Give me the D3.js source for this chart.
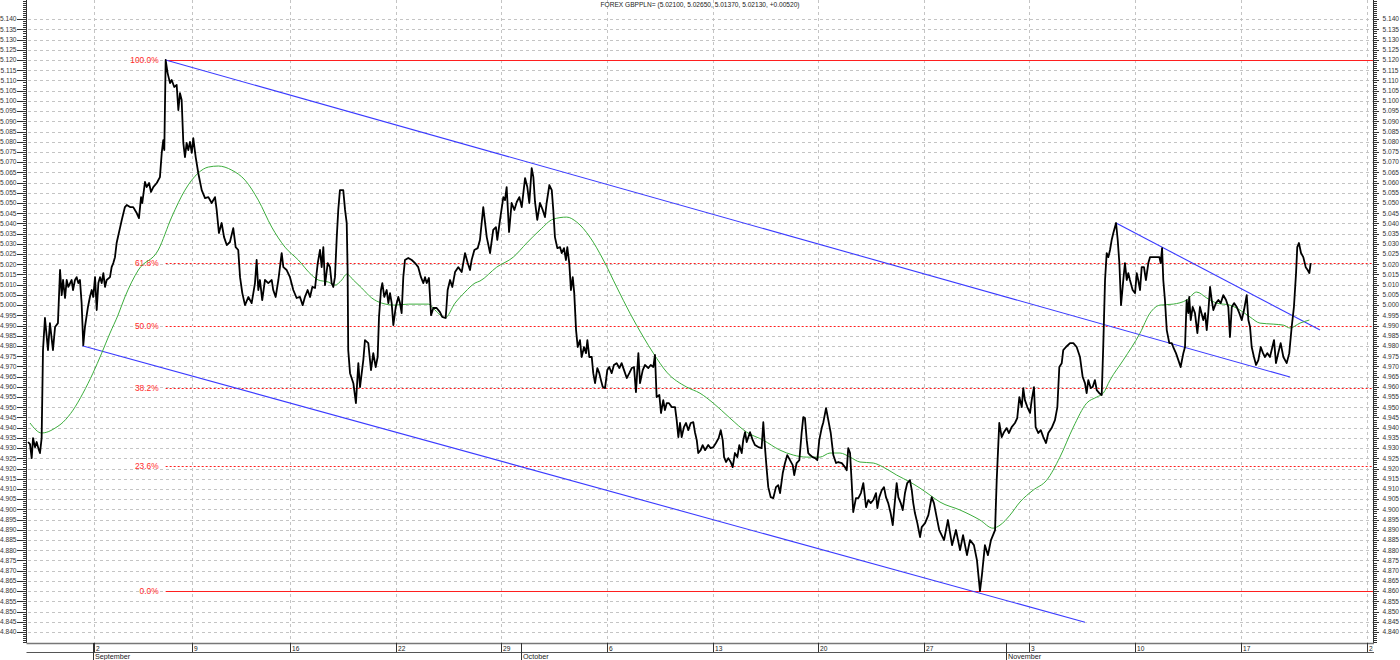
<!DOCTYPE html>
<html><head><meta charset="utf-8">
<script src="https://cdn.jsdelivr.net/npm/d3@7"></script>
<style>
body{margin:0;background:#fff;}
svg{display:block;font-family:"Liberation Sans",Arial,sans-serif;}
</style></head><body>
<svg id="c" width="1400" height="660"></svg>
<script>
const title = "FOREX GBPPLN= (5.02100, 5.02650, 5.01370, 5.02130, +0.00520)";
// [days since 2 Sep, price]
const price = [[-4.37,4.9330],[-4.24,4.9320],[-4.13,4.9251],[-4.04,4.9349],[-3.91,4.9305],[-3.80,4.9330],[-3.69,4.9300],[-3.58,4.9276],[-3.47,4.9349],[-3.38,4.9780],[-3.25,4.9937],[-3.05,4.9780],[-2.92,4.9912],[-2.72,4.9780],[-2.58,4.9893],[-2.39,4.9912],[-2.25,5.0172],[-2.14,5.0049],[-2.05,5.0123],[-1.92,5.0035],[-1.81,5.0123],[-1.70,5.0089],[-1.48,5.0123],[-1.39,5.0074],[-1.26,5.0123],[-1.15,5.0137],[-1.04,5.0108],[-0.93,5.0123],[-0.82,5.0010],[-0.71,4.9804],[-0.60,4.9893],[-0.40,4.9991],[-0.27,5.0040],[-0.15,5.0074],[-0.05,5.0040],[0.07,5.0137],[0.18,4.9976],[0.29,5.0108],[0.40,5.0137],[0.51,5.0108],[0.62,5.0157],[0.73,5.0089],[0.84,5.0123],[1.06,5.0137],[1.17,5.0186],[1.28,5.0206],[1.39,5.0235],[1.50,5.0304],[1.72,5.0377],[1.84,5.0417],[2.05,5.0480],[2.17,5.0490],[2.39,5.0480],[2.60,5.0480],[2.83,5.0451],[2.98,5.0426],[3.12,5.0529],[3.20,5.0500],[3.38,5.0603],[3.49,5.0578],[3.65,5.0598],[3.78,5.0554],[3.93,5.0578],[4.16,5.0598],[4.37,5.0627],[4.49,5.0745],[4.59,5.0808],[4.66,5.0759],[4.75,5.1200],[4.88,5.1136],[5.04,5.1087],[5.15,5.1102],[5.32,5.1068],[5.48,5.1078],[5.59,5.0955],[5.70,5.1038],[5.81,5.1004],[5.92,5.0794],[6.03,5.0725],[6.14,5.0794],[6.25,5.0759],[6.36,5.0799],[6.48,5.0745],[6.58,5.0818],[6.74,5.0725],[6.91,5.0647],[7.14,5.0563],[7.36,5.0524],[7.58,5.0529],[7.80,5.0500],[8.02,5.0529],[8.13,5.0466],[8.28,5.0353],[8.46,5.0402],[8.62,5.0333],[8.80,5.0294],[9.01,5.0309],[9.23,5.0377],[9.39,5.0284],[9.56,5.0270],[9.68,5.0137],[9.83,5.0059],[10.01,5.0000],[10.23,5.0040],[10.45,5.0010],[10.67,5.0108],[10.78,5.0221],[10.89,5.0074],[11.00,5.0123],[11.15,5.0025],[11.33,5.0123],[11.55,5.0108],[11.78,5.0123],[11.88,5.0074],[12.04,5.0040],[12.22,5.0123],[12.44,5.0255],[12.55,5.0186],[12.77,5.0172],[12.99,5.0137],[13.21,5.0074],[13.43,5.0035],[13.65,5.0040],[13.83,5.0000],[13.98,5.0040],[14.16,5.0074],[14.32,5.0040],[14.47,5.0089],[14.65,5.0084],[14.83,5.0206],[14.98,5.0270],[15.09,5.0186],[15.20,5.0284],[15.31,5.0098],[15.49,5.0206],[15.64,5.0186],[15.75,5.0108],[15.86,5.0089],[15.97,5.0137],[16.09,5.0333],[16.19,5.0466],[16.30,5.0563],[16.52,5.0563],[16.64,5.0466],[16.75,5.0402],[16.81,5.0172],[16.85,4.9780],[16.97,4.9667],[17.19,4.9618],[17.36,4.9520],[17.52,4.9716],[17.63,4.9599],[17.85,4.9731],[17.96,4.9829],[18.18,4.9814],[18.36,4.9682],[18.51,4.9765],[18.67,4.9697],[18.80,4.9746],[18.89,4.9942],[19.02,5.0074],[19.11,5.0108],[19.24,5.0040],[19.40,5.0074],[19.51,5.0010],[19.62,5.0059],[19.73,5.0010],[19.84,4.9902],[20.00,4.9991],[20.17,5.0040],[20.28,5.0010],[20.39,4.9961],[20.50,5.0137],[20.61,5.0221],[20.83,5.0231],[21.06,5.0221],[21.28,5.0206],[21.49,5.0186],[21.67,5.0137],[21.83,5.0108],[21.94,5.0137],[22.05,5.0108],[22.20,5.0133],[22.34,4.9951],[22.49,4.9986],[22.71,4.9986],[22.93,4.9966],[23.08,4.9942],[23.31,4.9937],[23.44,5.0074],[23.60,5.0123],[23.75,5.0089],[23.93,5.0162],[24.14,5.0186],[24.37,5.0162],[24.59,5.0255],[24.77,5.0206],[24.92,5.0172],[25.03,5.0221],[25.21,5.0270],[25.43,5.0279],[25.58,5.0319],[25.80,5.0480],[26.03,5.0333],[26.25,5.0255],[26.46,5.0368],[26.64,5.0382],[26.73,5.0319],[26.91,5.0417],[27.13,5.0529],[27.24,5.0514],[27.35,5.0578],[27.51,5.0358],[27.68,5.0500],[27.86,5.0466],[28.02,5.0505],[28.19,5.0529],[28.35,5.0480],[28.57,5.0622],[28.72,5.0578],[28.85,5.0500],[29.01,5.0671],[29.12,5.0627],[29.23,5.0505],[29.38,5.0417],[29.56,5.0500],[29.74,5.0466],[29.89,5.0431],[30.00,5.0500],[30.18,5.0588],[30.34,5.0563],[30.44,5.0466],[30.55,5.0333],[30.71,5.0279],[30.89,5.0284],[31.00,5.0255],[31.15,5.0279],[31.28,5.0221],[31.37,5.0284],[31.50,5.0206],[31.61,5.0074],[31.73,5.0137],[31.83,5.0059],[31.95,4.9878],[32.06,4.9795],[32.21,4.9829],[32.32,4.9746],[32.48,4.9795],[32.61,4.9765],[32.70,4.9829],[32.83,4.9746],[32.99,4.9746],[33.09,4.9667],[33.21,4.9618],[33.36,4.9692],[33.49,4.9667],[33.60,4.9633],[33.72,4.9599],[33.87,4.9594],[34.02,4.9682],[34.15,4.9697],[34.31,4.9667],[34.46,4.9707],[34.64,4.9716],[34.82,4.9692],[34.97,4.9716],[35.13,4.9682],[35.31,4.9643],[35.48,4.9667],[35.64,4.9692],[35.79,4.9697],[35.92,4.9574],[36.08,4.9765],[36.19,4.9618],[36.37,4.9682],[36.52,4.9707],[36.74,4.9692],[36.90,4.9707],[37.07,4.9697],[37.18,4.9756],[37.29,4.9550],[37.47,4.9560],[37.58,4.9472],[37.73,4.9535],[37.84,4.9486],[37.96,4.9520],[38.11,4.9520],[38.29,4.9501],[38.51,4.9501],[38.62,4.9437],[38.73,4.9354],[38.84,4.9423],[38.95,4.9354],[39.10,4.9403],[39.24,4.9423],[39.39,4.9388],[39.55,4.9423],[39.72,4.9427],[39.83,4.9378],[39.95,4.9339],[40.05,4.9276],[40.21,4.9290],[40.34,4.9315],[40.50,4.9290],[40.71,4.9315],[40.87,4.9300],[41.05,4.9305],[41.22,4.9325],[41.40,4.9349],[41.54,4.9388],[41.67,4.9339],[41.76,4.9256],[41.89,4.9232],[42.04,4.9251],[42.20,4.9232],[42.33,4.9207],[42.48,4.9276],[42.64,4.9256],[42.77,4.9315],[42.93,4.9276],[43.03,4.9339],[43.15,4.9378],[43.26,4.9330],[43.48,4.9378],[43.66,4.9339],[43.81,4.9315],[44.03,4.9305],[44.25,4.9300],[44.36,4.9427],[44.47,4.9305],[44.59,4.9192],[44.69,4.9109],[44.85,4.9060],[45.02,4.9055],[45.20,4.9109],[45.35,4.9119],[45.47,4.9080],[45.65,4.9178],[45.80,4.9227],[45.95,4.9266],[46.13,4.9241],[46.31,4.9217],[46.41,4.9168],[46.57,4.9227],[46.75,4.9241],[46.90,4.9374],[47.01,4.9452],[47.12,4.9447],[47.24,4.9339],[47.34,4.9276],[47.46,4.9266],[47.63,4.9256],[47.79,4.9251],[47.94,4.9241],[48.07,4.9339],[48.23,4.9398],[48.34,4.9427],[48.52,4.9496],[48.67,4.9437],[48.83,4.9374],[49.00,4.9266],[49.18,4.9227],[49.33,4.9232],[49.56,4.9227],[49.77,4.9207],[49.89,4.9192],[49.99,4.9300],[50.11,4.9276],[50.22,4.9129],[50.32,4.8987],[50.50,4.9055],[50.66,4.9055],[50.83,4.9080],[50.99,4.9129],[51.17,4.9011],[51.32,4.9046],[51.48,4.9031],[51.65,4.9046],[51.83,4.9080],[51.92,4.9006],[52.05,4.9060],[52.21,4.9094],[52.36,4.9109],[52.49,4.9060],[52.64,4.9031],[52.80,4.8982],[52.94,4.8923],[53.09,4.9046],[53.20,4.9129],[53.31,4.9060],[53.47,4.9031],[53.60,4.8997],[53.75,4.9080],[53.90,4.9129],[54.08,4.9143],[54.20,4.9094],[54.30,4.9031],[54.41,4.8982],[54.57,4.8933],[54.75,4.8864],[54.86,4.8913],[55.08,4.8933],[55.30,4.8972],[55.52,4.9060],[55.67,4.9031],[55.85,4.8962],[56.02,4.8899],[56.34,4.8850],[56.60,4.8948],[56.87,4.8825],[57.13,4.8899],[57.40,4.8801],[57.60,4.8874],[57.86,4.8776],[58.06,4.8850],[58.32,4.8825],[58.52,4.8752],[58.72,4.8600],[58.85,4.8678],[59.05,4.8825],[59.25,4.8776],[59.45,4.8850],[59.72,4.8899],[59.83,4.9143],[60.00,4.9423],[60.16,4.9354],[60.31,4.9378],[60.49,4.9398],[60.64,4.9374],[60.82,4.9403],[61.04,4.9423],[61.19,4.9447],[61.33,4.9550],[61.49,4.9501],[61.59,4.9594],[61.70,4.9535],[61.86,4.9501],[62.04,4.9472],[62.15,4.9535],[62.30,4.9599],[62.41,4.9403],[62.59,4.9374],[62.75,4.9388],[62.92,4.9354],[63.10,4.9325],[63.25,4.9374],[63.47,4.9398],[63.69,4.9437],[63.85,4.9501],[63.98,4.9697],[64.14,4.9716],[64.24,4.9780],[64.42,4.9795],[64.69,4.9814],[64.91,4.9814],[65.13,4.9795],[65.35,4.9746],[65.53,4.9648],[65.68,4.9618],[65.79,4.9569],[65.90,4.9633],[66.06,4.9594],[66.19,4.9599],[66.34,4.9633],[66.46,4.9584],[66.63,4.9569],[66.79,4.9560],[66.89,4.9795],[67.01,5.0123],[67.12,5.0255],[67.23,5.0235],[67.34,5.0270],[67.45,5.0319],[67.56,5.0353],[67.74,5.0402],[67.85,5.0319],[67.96,5.0206],[68.07,5.0000],[68.22,5.0123],[68.33,5.0206],[68.45,5.0123],[68.55,5.0157],[68.66,5.0123],[68.84,5.0074],[69.00,5.0059],[69.11,5.0157],[69.21,5.0123],[69.33,5.0074],[69.44,5.0186],[69.59,5.0186],[69.72,5.0123],[69.88,5.0206],[69.99,5.0235],[70.21,5.0235],[70.43,5.0235],[70.61,5.0235],[70.70,5.0206],[70.79,5.0279],[70.87,5.0123],[70.98,5.0025],[71.10,4.9878],[71.27,4.9814],[71.43,4.9814],[71.53,4.9795],[71.71,4.9765],[71.87,4.9731],[72.02,4.9697],[72.20,4.9765],[72.31,4.9795],[72.42,5.0025],[72.53,4.9961],[72.59,5.0040],[72.69,4.9927],[72.82,4.9991],[72.97,4.9961],[73.13,4.9863],[73.30,4.9991],[73.52,4.9927],[73.64,4.9961],[73.75,4.9878],[73.85,4.9961],[73.97,5.0089],[74.08,5.0025],[74.19,4.9976],[74.36,5.0010],[74.52,5.0025],[74.68,5.0010],[74.85,5.0049],[75.03,5.0025],[75.18,4.9991],[75.29,4.9844],[75.41,4.9991],[75.56,5.0010],[75.74,4.9991],[75.91,4.9961],[76.07,4.9927],[76.22,4.9976],[76.40,5.0049],[76.51,4.9927],[76.62,4.9893],[76.73,4.9795],[76.88,4.9746],[77.02,4.9707],[77.17,4.9731],[77.33,4.9795],[77.48,4.9765],[77.61,4.9746],[77.76,4.9765],[77.94,4.9746],[78.10,4.9795],[78.21,4.9829],[78.34,4.9716],[78.49,4.9765],[78.65,4.9814],[78.83,4.9746],[79.05,4.9716],[79.22,4.9765],[79.38,4.9893],[79.53,4.9991],[79.67,5.0157],[79.75,5.0284],[79.86,5.0304],[80.00,5.0255],[80.15,5.0235],[80.31,5.0186],[80.44,5.0172],[80.55,5.0157],[80.64,5.0206]];
// moving average
const movingAvg = [[-4.24,4.9423],[-3.47,4.9374],[-3.13,4.9378],[-2.58,4.9398],[-2.05,4.9427],[-1.39,4.9486],[-0.73,4.9569],[-0.07,4.9667],[0.51,4.9765],[1.06,4.9863],[1.59,4.9951],[2.05,5.0040],[2.94,5.0172],[4.26,5.0270],[5.15,5.0431],[6.03,5.0563],[6.91,5.0647],[7.58,5.0676],[8.24,5.0681],[9.13,5.0661],[10.01,5.0612],[10.89,5.0514],[11.78,5.0382],[12.66,5.0284],[13.54,5.0221],[14.43,5.0147],[14.87,5.0123],[15.53,5.0113],[15.97,5.0098],[16.42,5.0123],[16.75,5.0152],[17.19,5.0123],[17.74,5.0084],[18.41,5.0035],[19.07,5.0010],[19.95,5.0000],[20.83,5.0005],[22.16,5.0005],[22.60,4.9976],[23.26,4.9937],[23.93,5.0010],[24.59,5.0064],[25.25,5.0108],[25.58,5.0118],[26.69,5.0186],[27.79,5.0235],[28.68,5.0304],[29.56,5.0368],[30.44,5.0421],[31.33,5.0431],[31.99,5.0407],[32.87,5.0333],[33.76,5.0221],[34.64,5.0089],[35.52,4.9961],[36.41,4.9844],[37.07,4.9765],[37.96,4.9672],[39.28,4.9599],[40.16,4.9569],[41.05,4.9520],[42.15,4.9447],[43.26,4.9378],[44.36,4.9339],[45.47,4.9290],[46.35,4.9266],[47.24,4.9256],[48.12,4.9256],[48.78,4.9276],[49.44,4.9276],[50.11,4.9256],[50.77,4.9232],[51.65,4.9227],[52.31,4.9207],[53.20,4.9168],[54.08,4.9134],[54.75,4.9104],[55.41,4.9070],[56.07,4.9036],[57.40,4.8997],[58.72,4.8948],[59.58,4.8908],[60.05,4.8923],[60.71,4.8972],[61.37,4.9036],[62.24,4.9094],[63.14,4.9143],[64.02,4.9256],[64.91,4.9403],[65.79,4.9520],[66.46,4.9550],[66.89,4.9569],[67.34,4.9633],[68.22,4.9731],[69.33,4.9863],[69.99,4.9961],[70.65,5.0000],[71.53,5.0005],[72.42,5.0025],[73.08,5.0064],[73.75,5.0035],[74.41,5.0010],[75.29,5.0000],[75.95,4.9976],[76.62,4.9942],[77.28,4.9912],[78.16,4.9907],[78.83,4.9902],[79.27,4.9888],[79.93,4.9912],[80.55,4.9927]];
// trend lines [d0, p0, d1, p1]
const trendLines = [[4.75,5.1200,79.27,4.9648],[-0.78,4.9801,65.68,4.8448],[67.74,5.0402,81.26,4.9878]];
const fibLevels = [5.120, 5.02068, 4.990, 4.95932, 4.92136, 4.860];
const fibLabels = ["100.0%","61.8%","50.0%","38.2%","23.6%","0.0%"];
const fibStartDay = 4.75;
const tickDays = [0,6.5,13,20,27,34,41,48,55,62,69,76,84.4];
const tickLabels = ["2","9","16","22","29","6","13","20","27","3","10","17","24"];
const monthDays = [0,28.4,60.5];
const monthLabels = ["September","October","November"];

const L = 27, R = 1373, T = 0, B = 643;
const svg = d3.select("#c");
const x = d3.scaleLinear().domain([-4.374, 84.77]).range([L + 1, R]);
const y = d3.scaleLinear().domain([4.8346, 5.14938]).range([B, T]);

const defs = svg.append("defs");
defs.append("clipPath").attr("id","pc")
  .append("rect").attr("x",L).attr("y",T).attr("width",R-L).attr("height",B-T);
defs.append("clipPath").attr("id","xc")
  .append("rect").attr("x",L).attr("y",B).attr("width",R-L).attr("height",12);

const majors = d3.range(0,61).map(i => +(4.840 + i*0.005).toFixed(3));
const minors = d3.range(0,315).map(i => +(4.835 + i*0.001).toFixed(3)).filter(v => y(v) >= 0);
const py = v => Math.round(y(v)) + 0.5;

// grid
const grid = svg.append("g").attr("clip-path","url(#pc)");
grid.selectAll(".hg").data(majors).join("line")
  .attr("x1",L+1).attr("x2",R).attr("y1",py).attr("y2",py)
  .attr("stroke","#c4c4c4").attr("stroke-dasharray","3,3");
grid.selectAll(".vg").data(tickDays).join("line")
  .attr("x1",d=>Math.round(x(d))+0.5).attr("x2",d=>Math.round(x(d))+0.5).attr("y1",T).attr("y2",B)
  .attr("stroke","#c4c4c4").attr("stroke-dasharray","3,3");

// title
svg.append("text").attr("x",700).attr("y",7).attr("text-anchor","middle")
  .attr("font-size",6.6).attr("fill","#222").text(title);

// left axis
const la = svg.append("g");
la.append("line").attr("x1",L-0.5).attr("x2",L-0.5).attr("y1",0).attr("y2",B).attr("stroke","#333");
la.selectAll(".mn").data(minors).join("line")
  .attr("x1",L-4).attr("x2",L).attr("y1",py).attr("y2",py).attr("stroke","#333");
la.selectAll(".mj").data(majors).join("line")
  .attr("x1",L-10).attr("x2",L).attr("y1",py).attr("y2",py).attr("stroke","#333");
la.selectAll("text").data(majors).join("text")
  .attr("x",L-10.5).attr("y",d=>y(d)+2.3).attr("text-anchor","end")
  .attr("font-size",6.6).attr("fill","#333").text(d=>d.toFixed(3));

// right axis
const ra = svg.append("g");
ra.append("line").attr("x1",R+0.5).attr("x2",R+0.5).attr("y1",0).attr("y2",B).attr("stroke","#333");
ra.selectAll(".mn").data(minors).join("line")
  .attr("x1",R).attr("x2",R+4).attr("y1",py).attr("y2",py).attr("stroke","#333");
ra.selectAll(".mj").data(majors).join("line")
  .attr("x1",R).attr("x2",R+6).attr("y1",py).attr("y2",py).attr("stroke","#333");
ra.selectAll("text").data(majors).join("text")
  .attr("x",R+9.5).attr("y",d=>y(d)+2.3).attr("text-anchor","start")
  .attr("font-size",6.6).attr("fill","#333").text(d=>d.toFixed(3));

// bottom axis band
const xa = svg.append("g");
xa.append("line").attr("x1",L-0.5).attr("x2",R+1).attr("y1",B+0.5).attr("y2",B+0.5).attr("stroke","#777").attr("stroke-width",1.6);
xa.append("line").attr("x1",L-0.5).attr("x2",R+1).attr("y1",B+9.5).attr("y2",B+9.5).attr("stroke","#555").attr("stroke-width",1.2);
const xt = xa.append("g").attr("clip-path","url(#xc)");
xt.selectAll("line").data(tickDays).join("line")
  .attr("x1",d=>Math.round(x(d))+0.5).attr("x2",d=>Math.round(x(d))+0.5).attr("y1",B).attr("y2",B+9)
  .attr("stroke","#333");
xt.selectAll("text").data(tickDays).join("text")
  .attr("x",d=>Math.round(x(d))+2).attr("y",B+7.6)
  .attr("font-size",6.6).attr("fill","#222").text((d,i)=>tickLabels[i]);
xa.selectAll(".ms").data(monthDays).join("line")
  .attr("x1",d=>Math.round(x(d))-0.5).attr("x2",d=>Math.round(x(d))-0.5).attr("y1",B).attr("y2",660)
  .attr("stroke","#333");
xa.selectAll(".ml").data(monthDays).join("text")
  .attr("x",d=>Math.round(x(d))+1).attr("y",658.5)
  .attr("font-size",7.2).attr("fill","#222").text((d,i)=>monthLabels[i]);

// plot content
const pg = svg.append("g").attr("clip-path","url(#pc)");
const fibX0 = x(fibStartDay);
// white underlay so grid dashes do not show through dotted levels
pg.selectAll(".fibu").data(fibLevels).join("line")
  .attr("x1",fibX0).attr("x2",R).attr("y1",py).attr("y2",py)
  .attr("stroke","#fff").attr("stroke-width",1);
pg.selectAll(".fib").data(fibLevels).join("line")
  .attr("x1",fibX0).attr("x2",R).attr("y1",py).attr("y2",py)
  .attr("stroke","#ff1f1f").attr("stroke-width",1)
  .attr("stroke-dasharray",(d,i)=> (i===0||i===fibLevels.length-1) ? null : "2,2");
pg.selectAll(".fl").data(fibLevels).join("text")
  .attr("x",fibX0-7).attr("y",d=>y(d)+3).attr("text-anchor","end")
  .attr("font-size",8.4).attr("fill","#ff2a2a").text((d,i)=>fibLabels[i]);

pg.selectAll(".tl").data(trendLines).join("line")
  .attr("x1",d=>x(d[0])).attr("y1",d=>y(d[1])).attr("x2",d=>x(d[2])).attr("y2",d=>y(d[3]))
  .attr("stroke","#3b3bff").attr("stroke-width",1.1);

pg.append("path").datum(movingAvg)
  .attr("d",d3.line().x(d=>x(d[0])).y(d=>y(d[1])).curve(d3.curveMonotoneX))
  .attr("fill","none").attr("stroke","#3cad3c").attr("stroke-width",1);

pg.append("path").datum(price)
  .attr("d",d3.line().x(d=>x(d[0])).y(d=>y(d[1])))
  .attr("fill","none").attr("stroke","#000").attr("stroke-width",1.8).attr("stroke-linejoin","round");
</script>
</body></html>
